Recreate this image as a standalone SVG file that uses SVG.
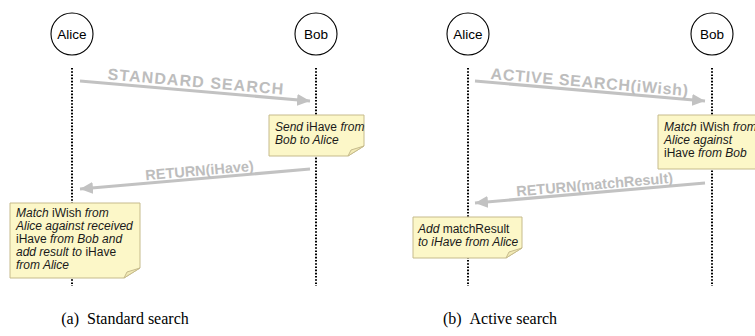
<svg xmlns="http://www.w3.org/2000/svg" width="755" height="336" viewBox="0 0 755 336">
  <style>
    .actor circle { fill: #ffffff; stroke: #000000; stroke-width: 1.1; }
    .actor text { font-family: "Liberation Sans", Arial, sans-serif; font-size: 13.5px; fill: #000000; text-anchor: middle; }
    .life { stroke: #000000; stroke-width: 2; stroke-dasharray: 1.6 1.6; fill: none; }
    .msg { stroke: #c2c2c2; stroke-width: 3; fill: none; }
    .msg-label { font-family: "Liberation Sans", Arial, sans-serif; font-size: 14.5px; font-weight: bold; fill: #bdbdbd; text-anchor: middle; }
    .msg-label.big { font-size: 16px; }
    .note path.box { fill: #fcf7c8; stroke: #c6bb8c; stroke-width: 1; }
    .note path.fold { fill: #f2eab5; stroke: #c6bb8c; stroke-width: 1; }
    .note text { font-family: "Liberation Sans", Arial, sans-serif; font-size: 12px; fill: #1a1a1a; font-style: italic; }
    .note .up { font-style: normal; }
    .caption { font-family: "Liberation Serif", "Times New Roman", serif; font-size: 16px; fill: #000000; text-anchor: middle; }
  </style>
  <defs>
    <marker id="head" markerUnits="userSpaceOnUse" markerWidth="14" markerHeight="12" refX="13" refY="6" orient="auto">
      <path d="M0,0 L13,6 L0,12 Z" fill="#c2c2c2"/>
    </marker>
  </defs>

  <rect x="0" y="0" width="755" height="336" fill="#ffffff"/>

  <!-- (a) Standard search -->
  <g id="a-lifelines">
    <line class="life" x1="72" y1="68" x2="72" y2="286"/>
    <line class="life" x1="316" y1="68" x2="316" y2="286"/>
  </g>
  <g id="a-alice" class="actor">
    <circle cx="72" cy="34" r="21"/>
    <text x="72" y="39">Alice</text>
  </g>
  <g id="a-bob" class="actor">
    <circle cx="316" cy="34" r="21"/>
    <text x="316" y="39">Bob</text>
  </g>

  <g id="a-connectors">
    <line class="msg" x1="80" y1="81" x2="310" y2="101" marker-end="url(#head)"/>
    <text class="msg-label big" x="195" y="87" textLength="176" lengthAdjust="spacing" transform="rotate(4.97 195 87)">STANDARD SEARCH</text>
    <line class="msg" x1="310" y1="169" x2="80" y2="189" marker-end="url(#head)"/>
    <text class="msg-label" x="200" y="175.5" transform="rotate(-4.97 200 175.5)">RETURN(iHave)</text>
  </g>

  <g id="a-note-bob" class="note">
    <path class="box" d="M269,115 H364 V146 L348,156 H269 Z"/>
    <path class="fold" d="M364,146 L351,150 L348,156 Z"/>
    <text x="275" y="131">Send <tspan class="up">iHave</tspan> from</text>
    <text x="275" y="144">Bob to Alice</text>
  </g>

  <g id="a-note-alice" class="note">
    <path class="box" d="M10,203 H140 V268 L124,278 H10 Z"/>
    <path class="fold" d="M140,268 L127,272 L124,278 Z"/>
    <text x="16" y="217">Match <tspan class="up">iWish</tspan> from</text>
    <text x="16" y="230">Alice against received</text>
    <text x="16" y="243"><tspan class="up">iHave</tspan> from Bob and</text>
    <text x="16" y="256">add result to <tspan class="up">iHave</tspan></text>
    <text x="16" y="269">from Alice</text>
  </g>

  <text id="a-caption" class="caption" x="125" y="324">(a)<tspan dx="8">Standard search</tspan></text>

  <!-- (b) Active search -->
  <g id="b-lifelines">
    <line class="life" x1="468" y1="68" x2="468" y2="286"/>
    <line class="life" x1="712" y1="68" x2="712" y2="286"/>
  </g>
  <g id="b-alice" class="actor">
    <circle cx="468" cy="34" r="21"/>
    <text x="468" y="39">Alice</text>
  </g>
  <g id="b-bob" class="actor">
    <circle cx="712" cy="34" r="21"/>
    <text x="712" y="39">Bob</text>
  </g>

  <g id="b-connectors">
    <line class="msg" x1="475" y1="81" x2="705" y2="101" marker-end="url(#head)"/>
    <text class="msg-label big" x="589" y="87.5" textLength="198" lengthAdjust="spacing" transform="rotate(4.97 589 87.5)">ACTIVE SEARCH(iWish)</text>
    <line class="msg" x1="705" y1="183" x2="475" y2="203" marker-end="url(#head)"/>
    <text class="msg-label" x="595" y="189.5" transform="rotate(-4.97 595 189.5)">RETURN(matchResult)</text>
  </g>

  <g id="b-note-bob" class="note">
    <path class="box" d="M658,115 H770 V169 H658 Z"/>
    <text x="664" y="131">Match <tspan class="up">iWish</tspan> from</text>
    <text x="664" y="144">Alice against</text>
    <text x="664" y="157"><tspan class="up">iHave</tspan> from Bob</text>
  </g>

  <g id="b-note-alice" class="note">
    <path class="box" d="M413,217 H522 V248 L506,258 H413 Z"/>
    <path class="fold" d="M522,248 L509,252 L506,258 Z"/>
    <text x="418" y="233">Add <tspan class="up">matchResult</tspan></text>
    <text x="418" y="246">to iHave from Alice</text>
  </g>

  <text id="b-caption" class="caption" x="500" y="324">(b)<tspan dx="8">Active search</tspan></text>
</svg>
